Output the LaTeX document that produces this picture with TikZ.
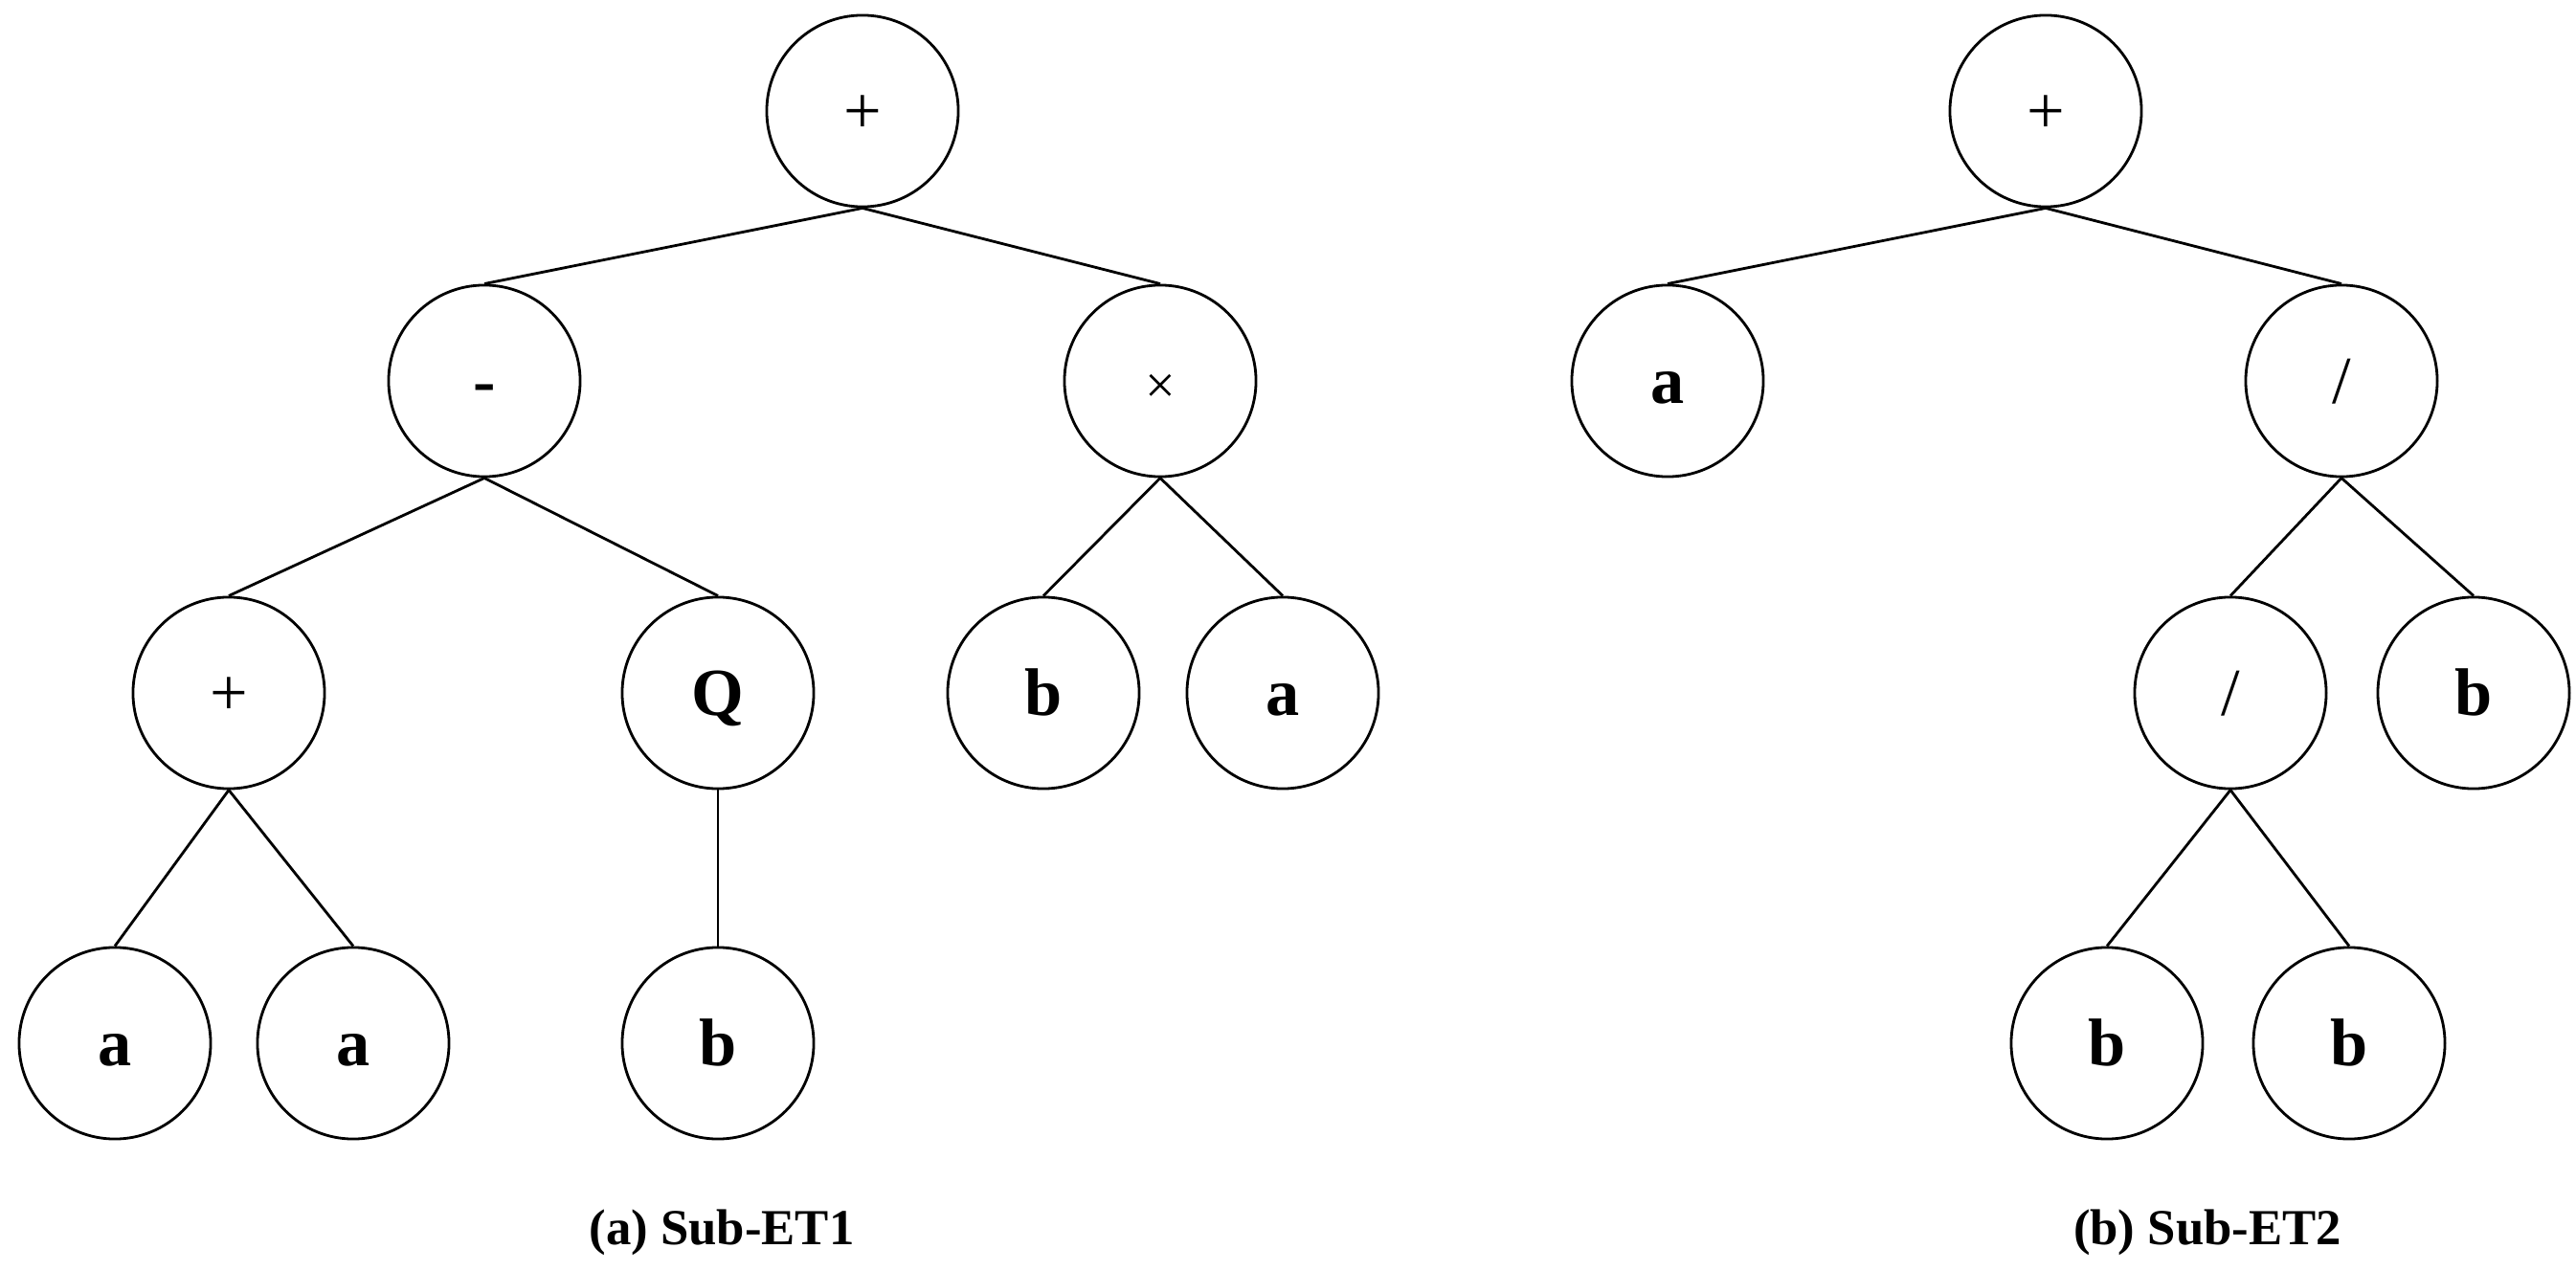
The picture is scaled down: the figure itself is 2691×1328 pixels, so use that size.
\documentclass[tikz,border=0pt]{standalone}
\usepackage{fontspec}
\setmainfont{Liberation Serif}
\usepackage{tikz}
\usetikzlibrary{positioning}

\begin{document}
\begin{tikzpicture}[
  x=0.01cm, y=-0.01cm,
  vert/.style={circle, draw, line width=0.8pt, minimum size=2cm, inner sep=0pt, text height=13.5pt, text depth=0pt, font=\fontsize{20}{24}\selectfont\bfseries},
  oper/.style={vert, font=\fontsize{20}{24}\selectfont},
  edge/.style={line width=0.8pt},
  caption/.style={font=\fontsize{15}{18}\selectfont\bfseries}
]
\useasboundingbox (0,0) rectangle (2691,1328);

% (a) Sub-ET1
\node[oper] (ra) at (901,116) {+};
\node[vert] (minus) at (506,398) {-};
\node[oper] (times) at (1212,398) {\fontsize{16}{18}\selectfont\symbol{"00D7}};
\node[oper] (plus) at (239,724) {+};
\node[vert] (q) at (750,724) {Q};
\node[vert] (tb) at (1090,724) {b};
\node[vert] (ta) at (1340,724) {a};
\node[vert] (pa) at (120,1090) {a};
\node[vert] (pb) at (369,1090) {a};
\node[vert] (qb) at (750,1090) {b};

\draw[edge] (ra.south) -- (minus.north);
\draw[edge] (ra.south) -- (times.north);
\draw[edge] (minus.south) -- (plus.north);
\draw[edge] (minus.south) -- (q.north);
\draw[edge] (times.south) -- (tb.north);
\draw[edge] (times.south) -- (ta.north);
\draw[edge] (plus.south) -- (pa.north);
\draw[edge] (plus.south) -- (pb.north);
\draw[edge] (q.south) -- (qb.north);

\node[caption] (capa) at (754,1288) {(a) Sub-ET1};

% (b) Sub-ET2
\node[oper] (rb) at (2137,116) {+};
\node[vert] (la) at (1742,398) {a};
\node[oper] (div) at (2446,398) {/};
\node[oper] (divb) at (2330,724) {/};
\node[vert] (db) at (2584,724) {b};
\node[vert] (bl) at (2201,1090) {b};
\node[vert] (br) at (2454,1090) {b};

\draw[edge] (rb.south) -- (la.north);
\draw[edge] (rb.south) -- (div.north);
\draw[edge] (div.south) -- (divb.north);
\draw[edge] (div.south) -- (db.north);
\draw[edge] (divb.south) -- (bl.north);
\draw[edge] (divb.south) -- (br.north);

\node[caption] (capb) at (2306,1288) {(b) Sub-ET2};
\end{tikzpicture}
\end{document}
